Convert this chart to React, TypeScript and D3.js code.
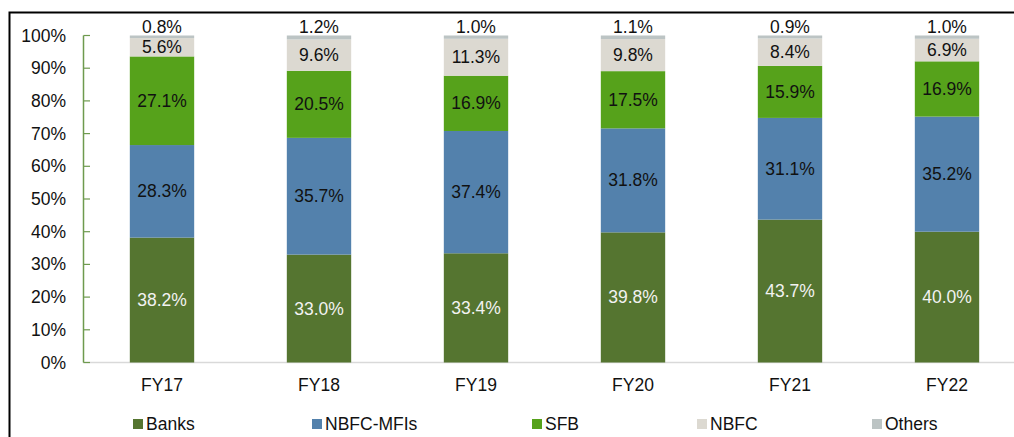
import React from "react";
import * as d3 from "d3";

const categories = ["FY17", "FY18", "FY19", "FY20", "FY21", "FY22"];
const seriesNames = ["Banks", "NBFC-MFIs", "SFB", "NBFC", "Others"];
const banks = [38.2, 33.0, 33.4, 39.8, 43.7, 40.0];
const nbfcMfis = [28.3, 35.7, 37.4, 31.8, 31.1, 35.2];
const sfb = [27.1, 20.5, 16.9, 17.5, 15.9, 16.9];
const nbfc = [5.6, 9.6, 11.3, 9.8, 8.4, 6.9];
const others = [0.8, 1.2, 1.0, 1.1, 0.9, 1.0];
const yTicks = [0, 10, 20, 30, 40, 50, 60, 70, 80, 90, 100];

const colors = ["#557530", "#5381AC", "#56A21B", "#DCD9D1", "#BCC4C4"];
const labelColors = ["#F2F2F2", "#111111", "#111111", "#111111", "#111111"];
const legendX = [133, 312, 532, 697, 872];

const W = 1014;
const H = 437;
const FONT = "'Liberation Sans', Arial, sans-serif";
const FS = 17.5;

export default function App() {
  const seriesValues = [banks, nbfcMfis, sfb, nbfc, others];
  const rows = categories.map((c, i) => {
    const r: any = { cat: c };
    seriesNames.forEach((s, k) => (r[s] = seriesValues[k][i]));
    return r;
  });
  const stacked = d3.stack().keys(seriesNames)(rows);

  const x = d3.scaleBand().domain(categories).range([83.5, 1025.5]).paddingInner(0.59).paddingOuter(0.295);
  const y = d3.scaleLinear().domain([0, 100]).range([362.5, 35.5]);
  const fmt = (v: number) => v.toFixed(1) + "%";

  return (
    <svg width={W} height={H} style={{ position: "fixed", left: 0, top: 0, background: "#fff" }} fontFamily={FONT}>
      <rect x={0} y={0} width={W} height={H} fill="#fff" />
      <rect x={9.5} y={12.5} width={1030} height={450} fill="none" stroke="#000" strokeWidth={2} />
      {/* baseline */}
      <line x1={83} x2={1014} y1={y(0)} y2={y(0)} stroke="#D9D9D9" strokeWidth={1.5} />
      {/* y axis */}
      <line x1={83.5} x2={83.5} y1={y(100)} y2={y(0)} stroke="#6E9A4E" strokeWidth={1.5} />
      {yTicks.map((t) => (
        <g key={t}>
          <line x1={83.5} x2={90} y1={y(t)} y2={y(t)} stroke="#6E9A4E" strokeWidth={1.2} />
          <text x={66} y={y(t)} textAnchor="end" dominantBaseline="central" fontSize={FS} fill="#111">
            {t + "%"}
          </text>
        </g>
      ))}
      {stacked.map((s, k) => (
        <g key={s.key}>
          {s.map((d, i) => {
            const x0 = x(categories[i])!;
            const bw = x.bandwidth();
            return (
              <rect key={i} x={x0} y={y(d[1])} width={bw} height={y(d[0]) - y(d[1])} fill={colors[k]} />
            );
          })}
        </g>
      ))}
      {stacked.map((s, k) => (
        <g key={s.key + "l"}>
          {s.map((d, i) => {
            const cx = x(categories[i])! + x.bandwidth() / 2;
            const v = seriesValues[k][i];
            const cy = k === 4 ? y(d[1]) - 9 : (y(d[0]) + y(d[1])) / 2;
            return (
              <text key={i} x={cx} y={cy} textAnchor="middle" dominantBaseline="central" fontSize={FS} fill={labelColors[k]}>
                {fmt(v)}
              </text>
            );
          })}
        </g>
      ))}
      {categories.map((c) => (
        <text key={c} x={x(c)! + x.bandwidth() / 2} y={385} textAnchor="middle" dominantBaseline="central" fontSize={FS} fill="#111">
          {c}
        </text>
      ))}
      {seriesNames.map((s, k) => (
        <g key={s}>
          <rect x={legendX[k]} y={419} width={10} height={10} fill={colors[k]} />
          <text x={legendX[k] + 13} y={424} dominantBaseline="central" fontSize={FS} fill="#111">
            {s}
          </text>
        </g>
      ))}
    </svg>
  );
}
